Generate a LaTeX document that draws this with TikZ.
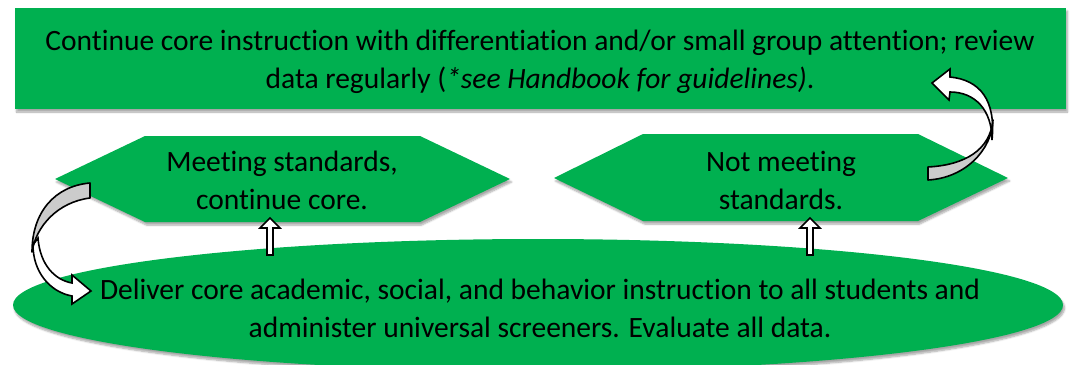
\documentclass[tikz,border=0pt]{standalone}
\usepackage{fontspec}
\setmainfont{Carlito}[Ligatures=NoCommon]
\usetikzlibrary{shadows.blur}
\definecolor{offgreen}{RGB}{0,176,80}
\definecolor{bandgray}{RGB}{204,204,204}
\tikzset{
  greenshape/.style={fill=offgreen, blur shadow={shadow xshift=1.5pt, shadow yshift=-3pt, shadow blur steps=6, shadow opacity=35}},
  label/.style={align=center, font=\fontsize{29.5}{38}\selectfont, text=black, inner sep=0pt},
  blockarrow/.style={fill=white, draw=black, line width=1.6pt, line join=miter},
  backband/.style={fill=bandgray, draw=black, line width=1.6pt, line join=round},
  frontband/.style={fill=white, draw=black, line width=1.6pt, line join=miter}
}
\begin{document}
\begin{tikzpicture}[x=1pt, y=-1pt]
\useasboundingbox (0,0) rectangle (1070,364);
% shapes
\path[greenshape] (15,8) rectangle (1066,109);
\path[greenshape] (55,179) -- (145,136) -- (420,136) -- (510,179) -- (420,222) -- (145,222) -- cycle;
\path[greenshape] (554,178) -- (643,134) -- (918,134) -- (1008,178) -- (918,221) -- (643,221) -- cycle;
\path[greenshape] (538,305) ellipse [x radius=525, y radius=66];
% texts
\node[label] (top) at (540,62) {Continue core instruction with differentiation and/or small group attention; review\\data regularly (\textit{*see Handbook for guidelines)}.};
\node[label] (meet) at (282,180) {Meeting standards,\\continue core.};
\node[label] (notmeet) at (781,180) {Not meeting\\standards.};
\node[label] (base) at (540,308) {Deliver core academic, social, and behavior instruction to all students and\\administer universal screeners. Evaluate all data.};
% up block arrows
\coordinate (ua) at (270,218);
\coordinate (ub) at (810,218);
\draw[blockarrow] (ua) -- ++(10,10) -- ++(-7,0) -- ++(0,27) -- ++(-6,0) -- ++(0,-27) -- ++(-7,0) -- cycle;
\draw[blockarrow] (ub) -- ++(10,10) -- ++(-7,0) -- ++(0,27) -- ++(-6,0) -- ++(0,-27) -- ++(-7,0) -- cycle;
% left curved arrow (from Meeting standards back down to base)
\coordinate (ltail) at (90,183);
\coordinate (lhead) at (91,291);
\draw[frontband] (33,245) .. controls (33,272) and (50,292) .. (72,296) -- (72,304) -- (lhead) -- (72,275) -- (72,283)
   .. controls (55,280) and (40,265) .. (38,238) -- cycle;
\draw[backband] (ltail) .. controls (55,186) and (32,212) .. (32,252)
   .. controls (36,226) and (58,202) .. (90,198) -- cycle;
% right curved arrow (from Not meeting standards up to top box)
\coordinate (rtail) at (928,167);
\coordinate (rhead) at (932,83);
\draw[frontband] (992,140) .. controls (992,110) and (975,92) .. (950,92) -- (949,100) -- (rhead) -- (950,69) -- (950,77)
   .. controls (980,80) and (996,100) .. (992,140) -- cycle;
\draw[backband] (rtail) .. controls (965,165) and (990,150) .. (993,120)
   .. controls (992,150) and (965,178) .. (928,180) -- cycle;
\end{tikzpicture}
\end{document}
